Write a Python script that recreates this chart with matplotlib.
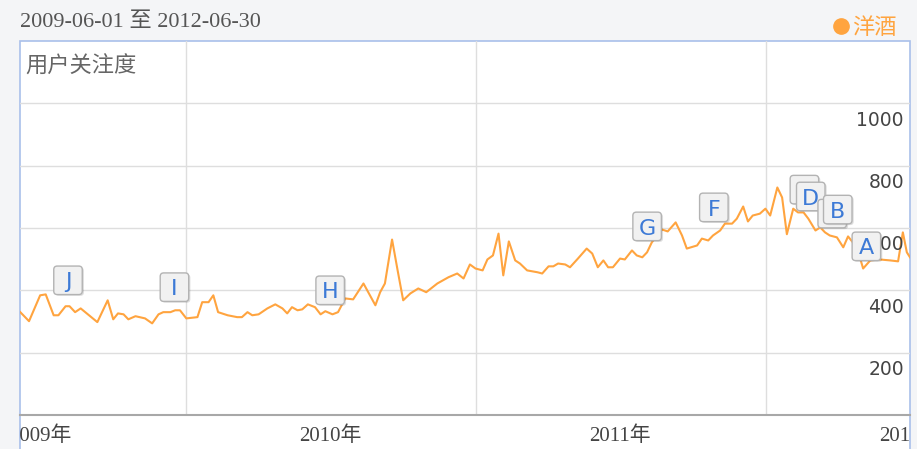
import numpy as np
import pandas as pd
import matplotlib
matplotlib.use("Agg")
import matplotlib.pyplot as plt
import matplotlib.dates as mdates
from matplotlib.patches import FancyBboxPatch, Rectangle
from matplotlib.lines import Line2D
from matplotlib.transforms import Bbox, TransformedBbox, ScaledTranslation

# data: days after 2009-06-01 and the attention index
start = pd.Timestamp("2009-06-01")
days = [5, 16, 30, 37, 47, 53, 62, 67, 74, 81, 102, 115, 122, 128, 135, 141, 150,
        162, 171, 179, 185, 194, 200, 206, 214, 228, 234, 242, 248, 254, 266, 278,
        284, 291, 297, 305, 316, 326, 335, 341, 347, 354, 360, 367, 376, 383, 389,
        398, 405, 414, 424, 437, 452, 458, 464, 473, 480, 487, 496, 506, 516, 530,
        544, 555, 563, 571, 578, 587, 593, 600, 607, 613, 620, 628, 634, 643, 656,
        662, 670, 676, 682, 691, 697, 707, 718, 725, 732, 739, 745, 751, 760, 766,
        775, 781, 788, 794, 800, 807, 813, 820, 830, 838, 844, 857, 863, 871, 877,
        886, 892, 901, 907, 915, 921, 927, 936, 943, 949, 958, 964, 970, 978, 984,
        991, 997, 1006, 1012, 1018, 1024, 1033, 1041, 1047, 1053, 1060, 1066, 1075,
        1087, 1100, 1110, 1116, 1121, 1125]
attention = [330, 301, 384, 387, 320, 320, 349, 349, 330, 342, 298, 368, 307, 326,
             323, 307, 317, 310, 294, 323, 330, 330, 336, 336, 310, 314, 362, 362,
             384, 330, 320, 314, 314, 330, 320, 323, 342, 355, 342, 326, 346, 336,
             339, 355, 346, 323, 333, 323, 330, 374, 371, 422, 352, 394, 422, 563,
             464, 368, 390, 406, 394, 422, 442, 454, 438, 483, 470, 464, 499, 512,
             582, 448, 557, 496, 486, 464, 458, 454, 477, 477, 486, 483, 474, 502,
             534, 518, 474, 496, 474, 474, 502, 499, 528, 512, 506, 522, 554, 576,
             595, 589, 618, 576, 534, 544, 566, 560, 576, 592, 614, 614, 630, 669,
             621, 640, 646, 662, 640, 730, 698, 580, 662, 650, 650, 630, 592, 602,
             586, 576, 570, 538, 573, 554, 522, 470, 496, 499, 496, 493, 586, 522,
             506]

# event flags
flag_labels = ["J", "I", "H", "G", "F", "E", "D", "C", "B", "A"]
flag_days = [65, 199, 395, 794, 878, 992, 1000, 1027, 1034, 1070]
flag_values = [432, 410, 400, 605, 666, 723, 701, 646, 659, 541]

y_ticks = [200, 400, 600, 800, 1000]
years = [2009, 2010, 2011, 2012]

W, H = 917, 449
orange = "#ffa43f"
fig = plt.figure(figsize=(W / 100, H / 100), dpi=100, facecolor="#f4f5f7")

# white panel with blue frame
fig.patches.append(Rectangle((19.5 / W, -0.05), 890.5 / W, (449 - 41) / H + 0.05,
                             transform=fig.transFigure, fc="white", ec="#a9c0ea",
                             lw=1.2, zorder=-5))

ax = fig.add_axes([19.5 / W, 34 / H, 890.5 / W, 374 / H])
ax.set_zorder(1)
ax.patch.set_alpha(0)
for s in ["top", "left", "right"]:
    ax.spines[s].set_visible(False)
ax.spines["bottom"].set_color("#a8a8a8")
ax.spines["bottom"].set_linewidth(1.5)

dates = start + pd.to_timedelta(days, unit="D")
ax.plot(dates, attention, color=orange, lw=1.5, zorder=3)

ax.set_xticks([pd.Timestamp(f"{y}-01-01") for y in years[1:]])
ax.set_yticks(y_ticks)
ax.grid(True, color="#dedede", lw=1)
ax.tick_params(length=0, labelbottom=False, labelleft=False)

for v in y_ticks:
    ax.annotate(str(v), xy=(1, v), xycoords=("axes fraction", "data"),
                xytext=(-6, -17), textcoords="offset pixels", ha="right",
                va="center", fontsize=13.5, color="#444444", zorder=4)

clip = TransformedBbox(Bbox([[19.5 / W, 0], [910 / W, 1]]), fig.transFigure)
for y in years:
    t = ax.annotate(f"{y}年", xy=(pd.Timestamp(f"{y}-07-01"), 0),
                    xycoords=("data", "axes fraction"), xytext=(0, -21),
                    textcoords="offset pixels", ha="center", va="center",
                    fontsize=15, color="#444444", annotation_clip=False,
                    family=["Liberation Serif", "Noto Sans CJK SC"])
    t.set_clip_path(None)
    t.set_clip_box(clip)
    t.set_clip_on(True)

# flags as fixed-size boxes at data points
fs = 16
for i, (lab, d, v) in enumerate(zip(flag_labels, flag_days, flag_values)):
    x = mdates.date2num(start + pd.Timedelta(days=d))
    tr = fig.dpi_scale_trans + ScaledTranslation(x, v, ax.transData)
    z = 5 + i * 0.1
    sh = FancyBboxPatch((-0.125, -0.155), 0.285, 0.285,
                        boxstyle="round,pad=0,rounding_size=0.035",
                        transform=tr, fc="#000000", ec="none", alpha=0.13,
                        zorder=z, clip_on=False)
    box = FancyBboxPatch((-0.142, -0.142), 0.285, 0.285,
                         boxstyle="round,pad=0,rounding_size=0.035",
                         transform=tr, fc="#f1f1f1", ec="#b3b3b3", lw=1,
                         zorder=z + 0.01, clip_on=False)
    ax.add_artist(sh)
    ax.add_artist(box)
    ax.text(0, -0.729 * fs / 72 / 2, lab, transform=tr, ha="center",
            va="baseline", fontsize=fs, color="#3d7ad6", zorder=z + 0.02)

ax.set_xlim(pd.Timestamp("2009-06-05"), pd.Timestamp("2012-06-30"))
ax.set_ylim(0, 1200)

fig.text(20 / W, (449 - 23) / H, "2009-06-01 至 2012-06-30", fontsize=16,
         color="#555555", va="center",
         family=["Liberation Serif", "Noto Sans CJK SC"])
fig.text(25 / W, (449 - 66) / H, "用户关注度", fontsize=16, color="#666666",
         va="center", family=["Noto Sans CJK SC"])
fig.add_artist(Line2D([840.5 / W], [(449 - 26) / H], marker="o", markersize=11,
                      color=orange, ls="none", transform=fig.transFigure))
fig.text(852 / W, (449 - 27) / H, "洋酒", fontsize=16, color=orange, va="center",
         family=["Noto Sans CJK SC"])

fig.savefig("out.png", dpi=100, facecolor=fig.get_facecolor())
